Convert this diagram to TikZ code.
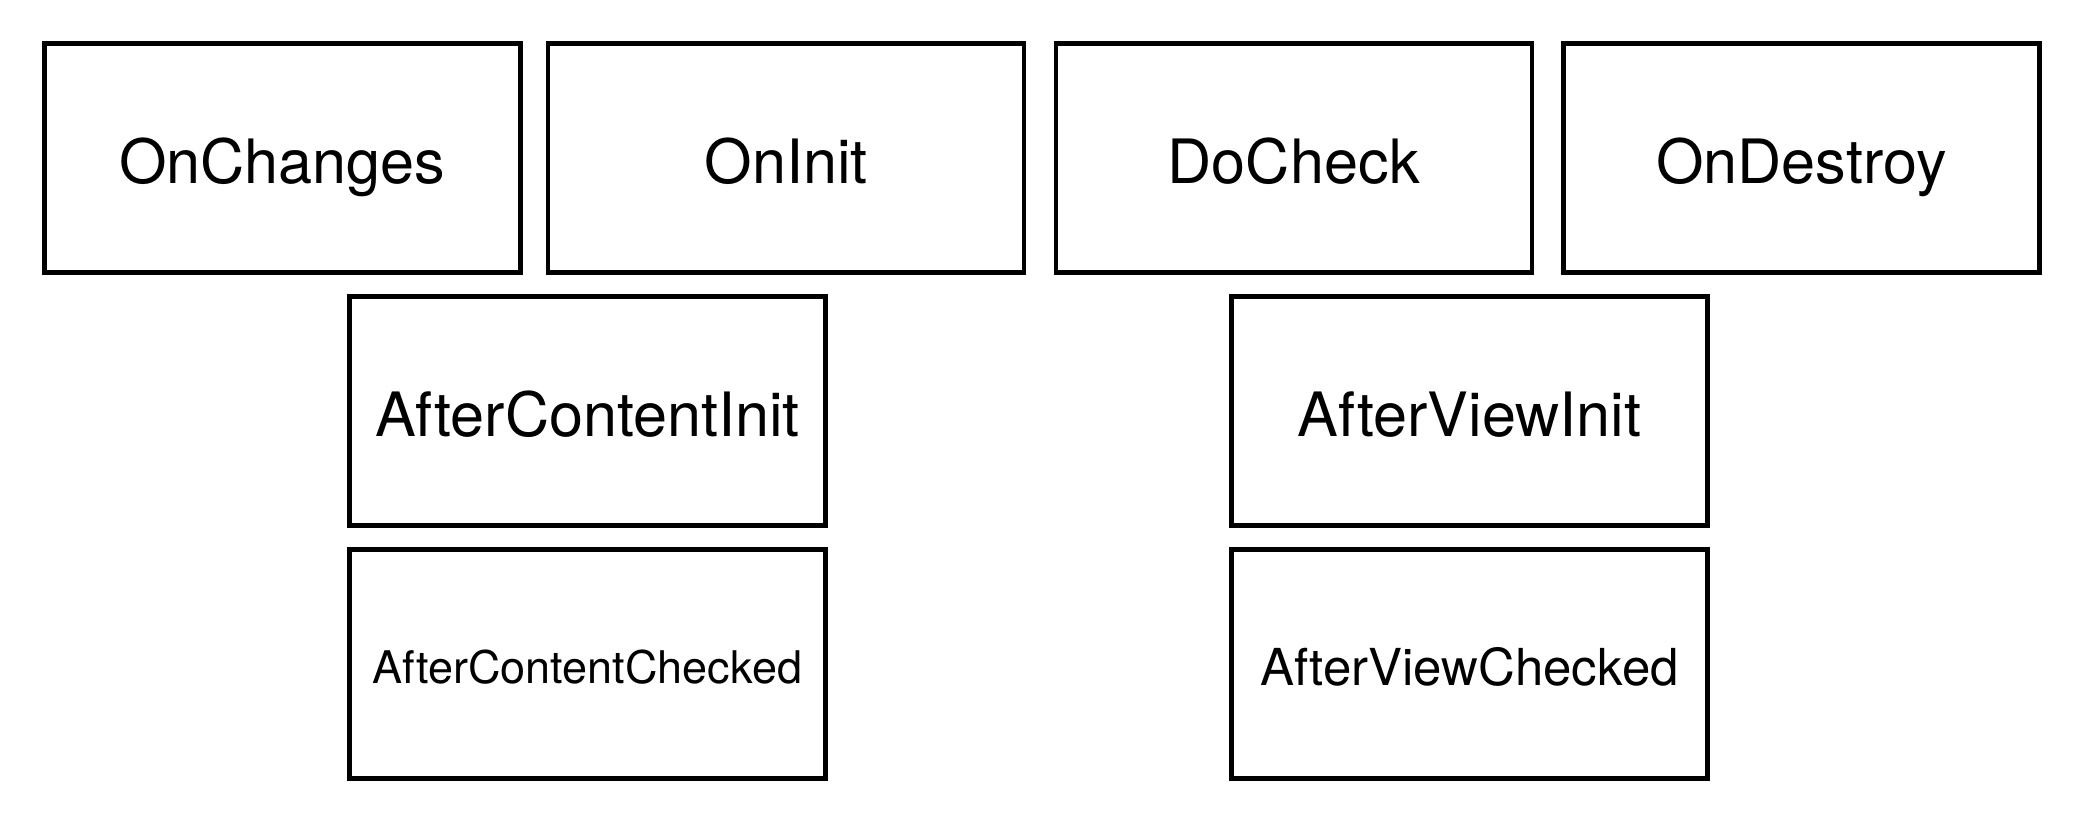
\documentclass[tikz,border=0pt]{standalone}
\usepackage{fontspec}
\setmainfont{TeX Gyre Heros}

\tikzset{
    hook/.style={draw, line width=1.25pt, minimum width=4.76cm, minimum height=2.29cm,
        inner sep=0pt, text depth=0pt, bigtext},
    bigtext/.style={font=\fontsize{17.4}{20}\selectfont, text height=14.5pt},
    midtext/.style={font=\fontsize{14.5}{17}\selectfont, text height=12.4pt},
    smalltext/.style={font=\fontsize{12.8}{15}\selectfont, text height=11.2pt}
}

\begin{document}
\begin{tikzpicture}
            \useasboundingbox (0, 0) rectangle (20.89, -8.26);

            % Top row
            \node (onchanges) at (2.824, -1.579) [hook]{OnChanges};
            \node (oninit) at (7.860, -1.579) [hook]{OnInit};
            \node (docheck) at (12.937, -1.579) [hook]{DoCheck};
            \node (ondestroy) at (18.013, -1.579) [hook]{OnDestroy};

            % Content hooks
            \node (contentinit) at (5.875, -4.110) [hook]{AfterContentInit};
            \node (contentchecked) at (5.875, -6.640) [hook, smalltext]{AfterContentChecked};

            % View hooks
            \node (viewinit) at (14.695, -4.110) [hook]{AfterViewInit};
            \node (viewchecked) at (14.695, -6.640) [hook, midtext]{AfterViewChecked};
        \end{tikzpicture}
\end{document}
